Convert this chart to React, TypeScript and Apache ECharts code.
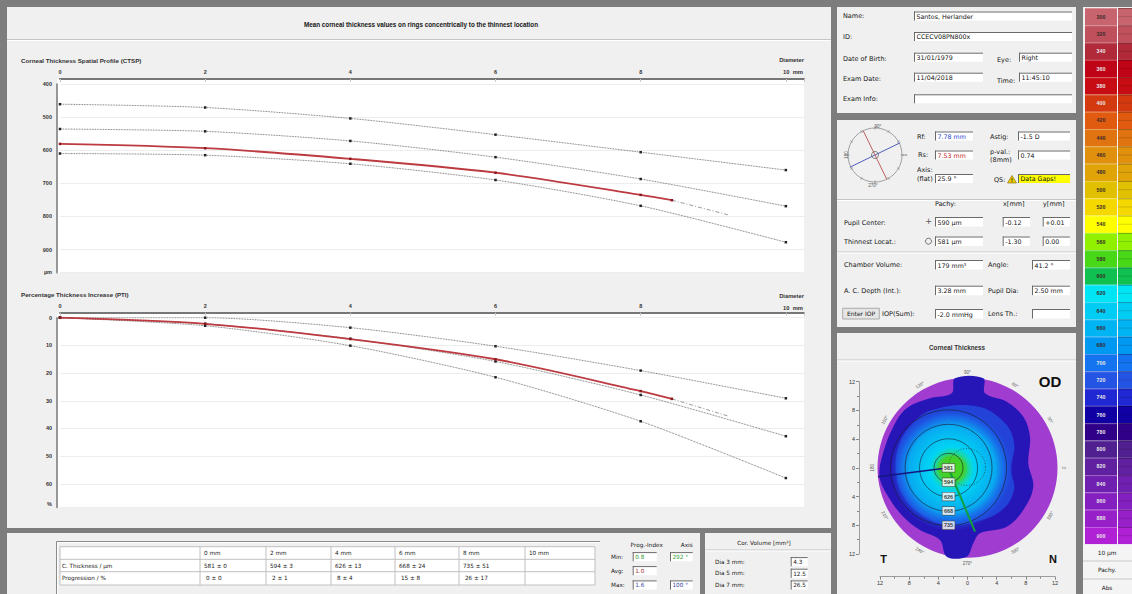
import React, { useEffect, useRef } from "react";
import * as echarts from "echarts";

const FONT = '"Liberation Sans", Arial, Helvetica, sans-serif';
const UIFONT = '"DejaVu Sans", Verdana, sans-serif';

// ---------- data ----------
const ringDiameters = [0, 2, 4, 6, 8, 10];
const ctspNormLow = [461, 471, 504, 553, 606, 660];
const ctspNormMean = [536, 543, 572, 621, 687, 769];
const ctspNormHigh = [610, 615, 641, 690, 768, 878];
const patientDiameters = [0, 2, 4, 6, 8, 8.43];
const ctspPatient = [581, 594, 626, 668, 735, 751];
const extrapolDiameters = [8.43, 9.2];
const ctspExtrapol = [751, 795];
const ptiNormLow = [0, 0, 3.6, 10.3, 19.1, 29.1];
const ptiNormMean = [0, 2.2, 7.6, 15.8, 27.9, 42.8];
const ptiNormHigh = [0, 2.9, 10.1, 21.5, 37.4, 57.9];
const ptiPatient = [0, 2.2, 7.7, 15.0, 26.5, 29.3];
const ptiExtrapol = [29.3, 35.5];

const tableColumns = ["0 mm", "2 mm", "4 mm", "6 mm", "8 mm", "10 mm"];
const thicknessMean = [581, 594, 626, 668, 735];
const thicknessSd = [0, 3, 13, 24, 51];
const progressionMean = [0, 2, 8, 15, 26];
const progressionSd = [0, 1, 4, 8, 17];

const progIndexLabels = ["Min:", "Avg:", "Max:"];
const progIndexValues = ["0.8", "1.0", "1.6"];
const progIndexAxes = ["292 °", "", "100 °"];
const corVolumeLabels = ["Dia 3 mm:", "Dia 5 mm:", "Dia 7 mm:"];
const corVolumeValues = ["4.3", "12.5", "26.5"];

const scaleValues = [300, 320, 340, 360, 380, 400, 420, 440, 460, 480, 500, 520, 540, 560, 580, 600, 620, 640, 660, 680, 700, 720, 740, 760, 780, 800, 820, 840, 860, 880, 900];
const scaleColors = [
  "#c8646e", "#c0505c", "#b02a3a", "#c00418", "#c80c14", "#d43a10", "#e05a10", "#e07410",
  "#e0900c", "#e0a408", "#e0c000", "#f4d800", "#ffff00", "#90f000", "#48d818", "#10c050",
  "#00e4f4", "#00ccf4", "#00b4f4", "#0098f0", "#1474f0", "#2454e4", "#2028d4", "#1000a4",
  "#300088", "#502090", "#6020a0", "#7020b0", "#8420c0", "#9820c8", "#b020d4",
];
const mapAngles = [90, 60, 30, 0, 330, 300, 270, 240, 210, 180, 150, 120];
const thinnestXmm = -2.6;

// ---------- helpers ----------
function T(x: number, y: number, text: string, o: any = {}) {
  const align = o.align ?? "left";
  return {
    type: "text", x, y, z: o.z ?? 6, rotation: o.rot ?? 0, silent: true,
    style: {
      text, fill: o.color ?? "#161616", fontSize: o.size ?? 6.5, fontFamily: o.family ?? UIFONT,
      fontWeight: o.weight ?? "normal",
      align, verticalAlign: "middle", textAlign: align, textVerticalAlign: "middle",
    },
  };
}
function R(x: number, y: number, w: number, h: number, fill: any, o: any = {}) {
  return {
    type: "rect", z: o.z ?? -8, silent: true, shape: { x, y, width: w, height: h },
    style: { fill, stroke: o.stroke ?? null, lineWidth: o.lw ?? 1 },
  };
}
function L(x1: number, y1: number, x2: number, y2: number, stroke: string, lw = 1, z = -4, dash?: any) {
  return {
    type: "line", z, silent: true, shape: { x1, y1, x2, y2 },
    style: { stroke, lineWidth: lw, lineDash: dash ?? null },
  };
}
function box(x: number, y: number, w: number, h: number, text: string, color = "#111", bg = "#ffffff", size = 6.3) {
  return [
    R(x, y, w, h, bg, { z: -3 }),
    L(x, y + 0.5, x + w, y + 0.5, "#6a6a6a", 1, -2),
    L(x + 0.5, y, x + 0.5, y + h, "#6a6a6a", 1, -2),
    T(x + 2.5, y + h / 2 + 0.3, text, { color, size }),
  ];
}
function lum(hex: string) {
  const r = parseInt(hex.slice(1, 3), 16), g = parseInt(hex.slice(3, 5), 16), b = parseInt(hex.slice(5, 7), 16);
  return (0.299 * r + 0.587 * g + 0.114 * b) / 255;
}

function buildGraphics() {
  const els: any[] = [];
  // panels
  els.push(R(7, 7, 824, 521, "#f0f0f0", { z: -10 }));
  els.push(R(7, 533, 693, 61, "#f0f0f0", { z: -10 }));
  els.push(R(705, 533, 126, 61, "#f0f0f0", { z: -10 }));
  els.push(R(837, 7, 239, 106, "#f0f0f0", { z: -10 }));
  els.push(R(837, 120, 239, 207, "#f0f0f0", { z: -10 }));
  els.push(R(837, 333, 239, 261, "#f0f0f0", { z: -10 }));
  els.push(R(1083, 7, 49, 587, "#f0f0f0", { z: -10 }));

  // main title
  els.push(T(421, 24, "Mean corneal thickness values on rings concentrically to the thinnest location", { align: "center", weight: "bold", size: 6.3, family: FONT }));
  els.push(L(7, 39.5, 831, 39.5, "#c4c4c4", 1, -6), L(7, 40.5, 831, 40.5, "#ffffff", 1, -6));

  // CTSP frame
  els.push(T(21, 60, "Corneal Thickness Spatial Profile (CTSP)", { weight: "bold", size: 6.2, color: "#333", family: FONT }));
  els.push(T(804, 60, "Diameter", { align: "right", weight: "bold", size: 5.8, color: "#333", family: FONT }));
  els.push(T(803, 72, "10  mm", { align: "right", weight: "bold", size: 5.8, color: "#333", family: FONT }));
  els.push(R(57, 79, 747, 194, "#ffffff", { z: -6 }));
  els.push(T(52, 272, "µm", { align: "right", weight: "bold", size: 5.5, color: "#333", family: FONT }));

  // PTI frame
  els.push(T(21, 294.3, "Percentage Thickness Increase (PTI)", { weight: "bold", size: 6.2, color: "#333", family: FONT }));
  els.push(T(804, 296, "Diameter", { align: "right", weight: "bold", size: 5.8, color: "#333", family: FONT }));
  els.push(T(803, 307.7, "10  mm", { align: "right", weight: "bold", size: 5.8, color: "#333", family: FONT }));
  els.push(R(57, 312.7, 747, 195, "#ffffff", { z: -6 }));
  els.push(T(52, 504, "%", { align: "right", weight: "bold", size: 5.5, color: "#333", family: FONT }));

  // ---------- bottom table ----------
  els.push(L(56.5, 541.5, 600, 541.5, "#8a8a8a", 1, -6), L(57, 542.5, 600, 542.5, "#ffffff", 1, -6));
  els.push(L(56.5, 541.5, 56.5, 594, "#8a8a8a", 1, -6), L(57.5, 542.5, 57.5, 594, "#ffffff", 1, -6));
  const colX = [60, 200, 266, 331, 395, 459, 525, 595];
  const rowY = [546.7, 559.3, 571.7, 585];
  els.push(R(60, 546.7, 535, 38.3, "#ffffff", { z: -6 }));
  rowY.forEach((y) => els.push(L(60, y, 595, y, "#c0c0c0", 1, -5)));
  colX.forEach((x) => els.push(L(x, 546.7, x, 585, "#c0c0c0", 1, -5)));
  const ts = 5.7;
  tableColumns.forEach((c, i) => els.push(T(colX[i + 1] + 4, 553, c, { size: ts })));
  els.push(T(62, 565.5, "C. Thickness / µm", { size: ts }));
  els.push(T(62, 578.3, "Progression / %", { size: ts }));
  thicknessMean.forEach((m, i) => els.push(T(colX[i + 1] + 4, 565.5, `${m} ± ${thicknessSd[i]}`, { size: ts })));
  progressionMean.forEach((m, i) => els.push(T(colX[i + 1] + 6, 578.3, `${m} ± ${progressionSd[i]}`, { size: ts })));

  // prog index
  els.push(T(646.7, 545, "Prog.-Index", { align: "center", size: ts }));
  els.push(T(686.7, 545, "Axis", { align: "center", size: ts }));
  const piY = [556.7, 570.7, 585];
  const piCol = ["#2a9a2a", "#a03030", "#3040a0"];
  progIndexLabels.forEach((l, i) => {
    els.push(T(611, piY[i], l, { size: ts }));
    els.push(...box(632.7, piY[i] - 4.6, 24, 9.2, progIndexValues[i], piCol[i], "#ffffff", ts));
    if (progIndexAxes[i]) els.push(...box(670, piY[i] - 4.6, 22.7, 9.2, progIndexAxes[i], piCol[i], "#ffffff", ts));
  });

  // cor volume
  els.push(T(764, 542.7, "Cor. Volume [mm³]", { align: "center", size: ts }));
  els.push(L(705, 550, 831, 550, "#c4c4c4", 1, -6), L(705, 551, 831, 551, "#ffffff", 1, -6));
  const cvY = [561.7, 573.3, 585];
  corVolumeLabels.forEach((l, i) => {
    els.push(T(715, cvY[i], l, { size: ts }));
    els.push(...box(790.7, cvY[i] - 4.6, 17, 9.2, corVolumeValues[i], "#111", "#ffffff", ts));
  });

  // ---------- patient panel ----------
  els.push(T(843, 16, "Name:"));
  els.push(...box(914, 11.5, 158, 9, "Santos, Herlander"));
  els.push(T(843, 37, "ID:"));
  els.push(...box(914, 32, 158, 9, "CCECV08PN800x"));
  els.push(T(843, 58.7, "Date of Birth:"));
  els.push(...box(914, 52.7, 69, 9, "31/01/1979"));
  els.push(T(997, 60, "Eye:"));
  els.push(...box(1019, 52.7, 53, 9, "Right"));
  els.push(T(843, 79, "Exam Date:"));
  els.push(...box(914, 72.7, 69, 9, "11/04/2018"));
  els.push(T(997, 80.5, "Time:"));
  els.push(...box(1019, 72.7, 53, 9, "11:45:10"));
  els.push(T(843, 99, "Exam Info:"));
  els.push(...box(914, 94.3, 158, 9, ""));

  // ---------- keratometry panel ----------
  const kx = 875, ky = 155, kr = 27;
  els.push({ type: "circle", z: 2, silent: true, shape: { cx: kx, cy: ky, r: kr }, style: { fill: null, stroke: "#8a8a8a", lineWidth: 0.8 } });
  for (let a = 0; a < 360; a += 30) {
    const c = Math.cos((a * Math.PI) / 180), s = Math.sin((a * Math.PI) / 180);
    els.push(L(kx + c * (kr - 1.5), ky - s * (kr - 1.5), kx + c * (kr + 1.5), ky - s * (kr + 1.5), "#8a8a8a", 0.8, 2));
  }
  const flat = (25.9 * Math.PI) / 180, steep = flat + Math.PI / 2;
  els.push(L(kx - Math.cos(flat) * 28, ky + Math.sin(flat) * 28, kx + Math.cos(flat) * 28, ky - Math.sin(flat) * 28, "#5060b8", 1, 3));
  els.push(L(kx - Math.cos(steep) * 27, ky + Math.sin(steep) * 27, kx + Math.cos(steep) * 27, ky - Math.sin(steep) * 27, "#c06060", 1, 3));
  els.push({ type: "circle", z: 4, silent: true, shape: { cx: kx, cy: ky, r: 3.5 }, style: { fill: null, stroke: "#666", lineWidth: 0.8 } });
  els.push(T(878, 126.5, "90°", { align: "center", size: 4.5, color: "#555", family: FONT }));
  els.push(T(873, 185.5, "270°", { align: "center", size: 4.5, color: "#555", family: FONT }));
  els.push(T(846, 155, "180", { align: "center", size: 4.5, color: "#555", rot: Math.PI / 2, family: FONT }));
  els.push(T(904, 155, "0", { align: "center", size: 4.5, color: "#555", rot: -Math.PI / 2, family: FONT }));

  els.push(T(917, 137, "Rf:"));
  els.push(...box(935, 131.5, 38, 9, "7.78 mm", "#1a3ad0"));
  els.push(T(990, 137, "Astig:"));
  els.push(...box(1018, 131.5, 52, 9, "-1.5 D"));
  els.push(T(918, 155, "Rs:"));
  els.push(...box(935, 150.5, 38, 9, "7.53 mm", "#c02020"));
  els.push(T(990, 151.5, "p-val.:"));
  els.push(T(990, 159.5, "(8mm)"));
  els.push(...box(1018, 150.5, 52, 9, "0.74"));
  els.push(T(917, 170, "Axis:"));
  els.push(T(917, 179, "(flat)"));
  els.push(...box(935, 174, 38, 9, "25.9 °"));
  els.push(T(994, 179.5, "QS:"));
  els.push({ type: "polygon", z: 5, silent: true, shape: { points: [[1007.5, 183], [1016.5, 183], [1012, 175.5]] }, style: { fill: "#f0d000", stroke: "#7a6000", lineWidth: 0.6 } });
  els.push(T(1012, 180.2, "!", { align: "center", size: 5, weight: "bold" }));
  els.push(...box(1018, 174, 52, 9, "Data Gaps!", "#111", "#ffff00"));

  els.push(L(837, 199.5, 1076, 199.5, "#c4c4c4", 1, -6), L(837, 200.5, 1076, 200.5, "#ffffff", 1, -6));
  els.push(T(935, 204.3, "Pachy:"));
  els.push(T(1003, 204.3, "x[mm]"));
  els.push(T(1043, 204.3, "y[mm]"));
  els.push(T(844, 222.7, "Pupil Center:"));
  els.push(T(928.5, 221.5, "+", { align: "center", size: 8, color: "#555" }));
  els.push(...box(935, 217, 48, 9.5, "590 µm"));
  els.push(...box(1002.7, 217, 27.3, 9.5, "-0.12"));
  els.push(...box(1042.7, 217, 27.3, 9.5, "+0.01"));
  els.push(T(844, 241.7, "Thinnest Locat.:"));
  els.push({ type: "circle", z: 5, silent: true, shape: { cx: 928.5, cy: 241.2, r: 3 }, style: { fill: null, stroke: "#555", lineWidth: 0.8 } });
  els.push(...box(935, 236.5, 48, 9.5, "581 µm"));
  els.push(...box(1002.7, 236.5, 27.3, 9.5, "-1.30"));
  els.push(...box(1042.7, 236.5, 27.3, 9.5, "0.00"));
  els.push(L(837, 252, 1076, 252, "#c4c4c4", 1, -6), L(837, 253, 1076, 253, "#ffffff", 1, -6));
  els.push(T(844, 265, "Chamber Volume:"));
  els.push(...box(935, 260, 48, 9.5, "179 mm³"));
  els.push(T(988, 265, "Angle:"));
  els.push(...box(1032, 260, 38, 9.5, "41.2 °"));
  els.push(T(844, 290.7, "A. C. Depth (Int.):"));
  els.push(...box(935, 285.7, 48, 9.5, "3.28 mm"));
  els.push(T(988, 290.7, "Pupil Dia:"));
  els.push(...box(1032, 285.7, 38, 9.5, "2.50 mm"));
  els.push(R(842.7, 308.3, 36.6, 10.7, "#e6e6e6", { z: -3, stroke: "#9a9a9a", lw: 0.8 }));
  els.push(T(861, 313.7, "Enter IOP", { align: "center", size: 6 }));
  els.push(T(882, 313.7, "IOP(Sum):"));
  els.push(...box(935, 309, 48, 9.5, "-2.0 mmHg"));
  els.push(T(988, 313.7, "Lens Th.:"));
  els.push(...box(1032, 309, 38, 9.5, ""));

  // ---------- corneal thickness map ----------
  els.push(T(957, 347, "Corneal Thickness", { align: "center", size: 6.3, weight: "bold", color: "#333", family: FONT }));
  els.push(L(837, 360, 1076, 360, "#c4c4c4", 1, -6), L(837, 361, 1076, 361, "#ffffff", 1, -6));
  const cx = 967.5, cy = 467.8;
  els.push({ type: "circle", z: 1, silent: true, shape: { cx, cy, r: 90 }, style: { fill: "#a03cd0" } });
  const darkBlue = [
    [955, 378.3], [983.3, 378.3], [985, 393.3], [1006.7, 401.7], [1023.3, 416.7], [1030, 436.7],
    [1028.3, 463.3], [1033.3, 486.7], [1023.3, 510], [1006.7, 526.7], [980, 533.3], [973.3, 543.3],
    [966.7, 556.7], [946.7, 556.7], [940, 540], [920, 530], [903.3, 516.7], [888.3, 496.7],
    [879.5, 476.7], [883, 453.3], [893.3, 426.7], [906.7, 408.3], [930, 398.3], [951.7, 393.3],
  ];
  els.push({ type: "polygon", z: 1, silent: true, shape: { points: darkBlue, smooth: 0.35 }, style: { fill: "#2616b8" } });
  const midBlue = [
    [932, 410], [975, 406], [1002, 420], [1014, 442], [1011, 470], [1014, 490],
    [1002, 510], [975, 522], [947, 525], [922, 515], [904, 497], [896, 472], [899, 445], [912, 424],
  ];
  els.push({ type: "polygon", z: 1, silent: true, shape: { points: midBlue, smooth: 0.4 }, style: { fill: "#2242d8" } });
  els.push({
    type: "circle", z: 1, silent: true, shape: { cx: 952, cy: 469, r: 62 },
    style: {
      fill: new echarts.graphic.RadialGradient(0.5, 0.5, 0.5, [
        { offset: 0, color: "#48d818" },
        { offset: 0.2, color: "#40d030" },
        { offset: 0.28, color: "#18d8b0" },
        { offset: 0.36, color: "#00d4f4" },
        { offset: 0.7, color: "#08aaf0" },
        { offset: 0.86, color: "rgba(24,110,236,0.7)" },
        { offset: 1, color: "rgba(34,66,216,0)" },
      ]),
    },
  });
  const tcx = cx + thinnestXmm * 7.29;
  ringDiameters.slice(1, 5).forEach((d) => {
    els.push({ type: "circle", z: 1, silent: true, shape: { cx: tcx, cy, r: d * 7.25 }, style: { fill: null, stroke: "#1a1a2a", lineWidth: 0.6 } });
  });
  els.push({ type: "circle", z: 1, silent: true, shape: { cx: 967, cy: 467, r: 18.5 }, style: { fill: null, stroke: "#333", lineWidth: 0.7, lineDash: [1, 1.6] } });
  els.push(L(tcx, cy, 878, 476.7, "#161680", 1.6, 1));
  els.push(L(tcx + 2, cy + 5, 975, 531.7, "#10a040", 2, 1));
  mapAngles.forEach((a) => {
    const rad = (a * Math.PI) / 180;
    const x = cx + 95.5 * Math.cos(rad), y = cy - 95.5 * Math.sin(rad);
    const rot = Math.sin(rad) < -0.01 ? rad + Math.PI / 2 : rad - Math.PI / 2;
    els.push(T(x, y, a === 0 || a === 180 ? String(a) : `${a}°`, { align: "center", size: 4.5, color: "#555", rot, family: FONT }));
  });
  els.push(T(1050, 381.7, "OD", { align: "center", size: 15, weight: "bold", color: "#111", family: FONT }));
  els.push(T(883.5, 559, "T", { align: "center", size: 11, weight: "bold", color: "#111", family: FONT }));
  els.push(T(1053, 559, "N", { align: "center", size: 11, weight: "bold", color: "#111", family: FONT }));

  // ---------- colour scale ----------
  const bh = 17.3;
  scaleValues.forEach((v, i) => {
    const y = 8 + i * bh;
    const col = scaleColors[i];
    els.push(R(1085, y, 32, bh, col, { z: -5 }));
    els.push(R(1118, y, 14, bh, col, { z: -5 }));
    els.push(L(1085, y + 0.5, 1117, y + 0.5, "rgba(255,255,255,0.35)", 0.8, -4));
    els.push(L(1118, y + 0.5, 1132, y + 0.5, "rgba(0,0,0,0.35)", 0.8, -4));
    els.push(L(1118, y + bh / 2, 1132, y + bh / 2, "rgba(0,0,0,0.25)", 0.6, -4));
    els.push(T(1101, y + bh / 2, String(v), { align: "center", size: 5.3, weight: "bold", color: lum(col) < 0.42 ? "#e6e6e6" : "#3a2a2a", family: FONT }));
  });
  els.push(R(1083, 544.3, 49, 50, "#f4f4f4", { z: -5 }));
  els.push(L(1083, 561, 1132, 561, "#c8c8c8", 1, -4));
  els.push(L(1083, 579, 1132, 579, "#c8c8c8", 1, -4));
  els.push(T(1107, 552.5, "10 µm", { align: "center", size: 5.8 }));
  els.push(T(1107, 570, "Pachy.", { align: "center", size: 5.8 }));
  els.push(T(1107, 588, "Abs", { align: "center", size: 5.8 }));
  return els;
}

const axisLabelStyle = { fontSize: 5.5, fontWeight: "bold" as const, color: "#333", fontFamily: FONT };

function profileXAxis(gridIndex: number) {
  return {
    gridIndex, type: "value", position: "top", min: 0, max: 10.25, interval: 2, offset: 5,
    axisLine: { show: true, onZero: false, lineStyle: { color: "#777", width: 2 } },
    axisTick: { show: true, inside: true, length: 3, lineStyle: { color: "#c8c8c8" } },
    axisLabel: { ...axisLabelStyle, margin: 4, formatter: (v: number) => (v % 2 === 0 && v < 10 ? String(v) : "") },
    splitLine: { show: false },
  };
}
function profileYAxis(gridIndex: number, min: number, max: number, interval: number) {
  return {
    gridIndex, type: "value", inverse: true, min, max, interval, offset: 3,
    axisLine: { show: true, onZero: false, lineStyle: { color: "#777", width: 1.5 } },
    axisTick: { show: false },
    axisLabel: { ...axisLabelStyle, margin: 5, formatter: (v: number) => (v % interval === 0 ? String(v) : "") },
    splitLine: { show: true, lineStyle: { color: "#ededed", width: 1 } },
  };
}
function normSeries(axis: number, values: number[]) {
  return {
    type: "line", xAxisIndex: axis, yAxisIndex: axis, z: 3,
    data: ringDiameters.map((d, i) => [d, values[i]]),
    smooth: 0.25, symbol: "rect", symbolSize: 2.5, showSymbol: true,
    itemStyle: { color: "#222" },
    lineStyle: { color: "#4a4a4a", width: 0.8, type: "dotted" },
    silent: true,
  };
}
function patientSeries(axis: number, values: number[]) {
  return {
    type: "line", xAxisIndex: axis, yAxisIndex: axis, z: 5,
    data: patientDiameters.map((d, i) => [d, values[i]]),
    smooth: 0.3, symbol: "rect", symbolSize: 2.5, showSymbol: true,
    itemStyle: { color: "#8a1a20" },
    lineStyle: { color: "#bc3a40", width: 1.8 },
    silent: true,
  };
}
function extrapolSeries(axis: number, values: number[]) {
  return {
    type: "line", xAxisIndex: axis, yAxisIndex: axis, z: 4,
    data: extrapolDiameters.map((d, i) => [d, values[i]]),
    symbol: "none", lineStyle: { color: "#9a9a9a", width: 1, type: [4, 2, 1, 2] }, silent: true,
  };
}

export default function App() {
  const ref = useRef<HTMLDivElement>(null);
  useEffect(() => {
    if (!ref.current) return;
    const chart = echarts.init(ref.current, null, { renderer: "svg" });
    const option: any = {
      animation: false,
      backgroundColor: "#7d7d7d",
      textStyle: { fontFamily: FONT },
      grid: [
        { left: 60, top: 84, width: 744, height: 188.7 },
        { left: 60, top: 317.7, width: 744, height: 189.7 },
        { left: 880, top: 381.7, width: 175, height: 172.3 },
      ],
      xAxis: [
        profileXAxis(0),
        profileXAxis(1),
        {
          gridIndex: 2, type: "value", min: -12, max: 12, interval: 4, position: "bottom", offset: 22.7,
          axisLine: { show: true, onZero: false, lineStyle: { color: "#888", width: 0.8 } },
          axisTick: { show: true, length: 3, lineStyle: { color: "#888" } },
          minorTick: { show: true, splitNumber: 2, length: 2, lineStyle: { color: "#888" } },
          axisLabel: { fontSize: 5.5, color: "#333", margin: 3, fontFamily: FONT, formatter: (v: number) => String(Math.abs(v)) },
          splitLine: { show: false },
        },
      ],
      yAxis: [
        profileYAxis(0, 400, 970, 100),
        profileYAxis(1, 0, 68.5, 10),
        {
          gridIndex: 2, type: "value", min: -12, max: 12, interval: 4, position: "left", offset: 21,
          axisLine: { show: true, onZero: false, lineStyle: { color: "#888", width: 0.8 } },
          axisTick: { show: true, length: 3, lineStyle: { color: "#888" } },
          minorTick: { show: true, splitNumber: 2, length: 2, lineStyle: { color: "#888" } },
          axisLabel: { fontSize: 5.5, color: "#333", margin: 4, fontFamily: FONT, formatter: (v: number) => String(Math.abs(v)) },
          splitLine: { show: false },
        },
      ],
      series: [
        normSeries(0, ctspNormLow),
        normSeries(0, ctspNormMean),
        normSeries(0, ctspNormHigh),
        extrapolSeries(0, ctspExtrapol),
        patientSeries(0, ctspPatient),
        normSeries(1, ptiNormLow),
        normSeries(1, ptiNormMean),
        normSeries(1, ptiNormHigh),
        extrapolSeries(1, ptiExtrapol),
        patientSeries(1, ptiPatient),
        {
          type: "scatter", xAxisIndex: 2, yAxisIndex: 2, z: 6, symbolSize: 0.1, silent: true,
          data: thicknessMean.map((t, i) => [thinnestXmm, -ringDiameters[i], t]),
          label: {
            show: true, position: "inside", formatter: (p: any) => String(p.data[2]),
            fontSize: 5.5, fontWeight: "bold", color: "#111", fontFamily: FONT,
            backgroundColor: "#ffffff", borderColor: "#444", borderWidth: 0.6, padding: [1, 1.5],
          },
        },
      ],
      graphic: { elements: buildGraphics() },
    };
    chart.setOption(option);
    return () => chart.dispose();
  }, []);
  return <div ref={ref} style={{ position: "absolute", left: 0, top: 0, width: 1132, height: 594 }} />;
}
